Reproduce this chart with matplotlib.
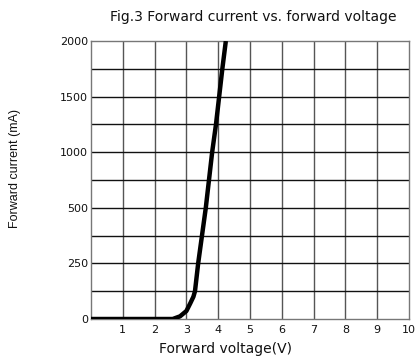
import matplotlib
matplotlib.use('Agg')
import matplotlib.pyplot as plt
import numpy as np

plt.rcParams['font.family'] = ['DejaVu Sans']

# Forward voltage (V) and forward current (mA)
voltage = [0, 2.57, 2.8, 3.0, 3.12, 3.22, 3.27, 3.37, 3.49, 3.61, 3.71, 3.81, 3.93, 4.03, 4.13, 4.24]
current = [0, 0, 12, 36, 70, 100, 125, 250, 375, 500, 750, 1000, 1250, 1500, 1750, 2000]

y_ticks = [0, 250, 500, 1000, 1500, 2000]
y_minor = [125, 375, 750, 1250, 1750]
x_ticks = [1, 2, 3, 4, 5, 6, 7, 8, 9, 10]

# the printed y axis is evenly gridded but its labels are not linear
grid_pos = [0, 2, 4, 6, 8, 10]


def fwd(v):
    return np.interp(v, y_ticks, grid_pos)


def inv(p):
    return np.interp(p, grid_pos, y_ticks)


fig = plt.figure(figsize=(4.19, 3.59), dpi=100)
ax = fig.add_axes([91 / 419, 1 - 319 / 359, 318 / 419, 278 / 359])
ax.set_yscale('function', functions=(fwd, inv))
ax.set_xlim(0, 10)
ax.set_ylim(0, 2000)

ax.set_xticks(range(0, 11))
ax.set_xticklabels([''] + [str(t) for t in x_ticks])
ax.set_yticks(y_ticks)
ax.set_yticklabels([str(t) for t in y_ticks])
ax.set_yticks(y_minor, minor=True)
ax.tick_params(axis='both', which='both', length=0, labelsize=8, colors='#111')
ax.tick_params(axis='y', pad=2)
ax.tick_params(axis='x', pad=4)

for x in range(1, 10):
    ax.axvline(x, color='#555555', lw=1.0, zorder=1)
for y in y_ticks[1:-1] + y_minor:
    ax.axhline(y, color='#111111', lw=1.0, zorder=1)

for s in ax.spines.values():
    s.set_color('#777777')
    s.set_linewidth(1.0)

ax.plot(voltage, current, color='black', lw=3.2, solid_capstyle='butt',
        solid_joinstyle='round', zorder=3)

fig.text(253 / 419, 1 - 17 / 359, 'Fig.3 Forward current vs. forward voltage',
         ha='center', va='center', fontsize=10, color='#111')
fig.text(225 / 419, 1 - 349 / 359, 'Forward voltage(V)',
         ha='center', va='center', fontsize=10, color='#111')
fig.text(15 / 419, 1 - 168 / 359, 'Forward current (mA)', rotation=90,
         ha='center', va='center', fontsize=9, color='#111',
         family=['Liberation Sans', 'DejaVu Sans'])

fig.savefig('out.png', dpi=100)
